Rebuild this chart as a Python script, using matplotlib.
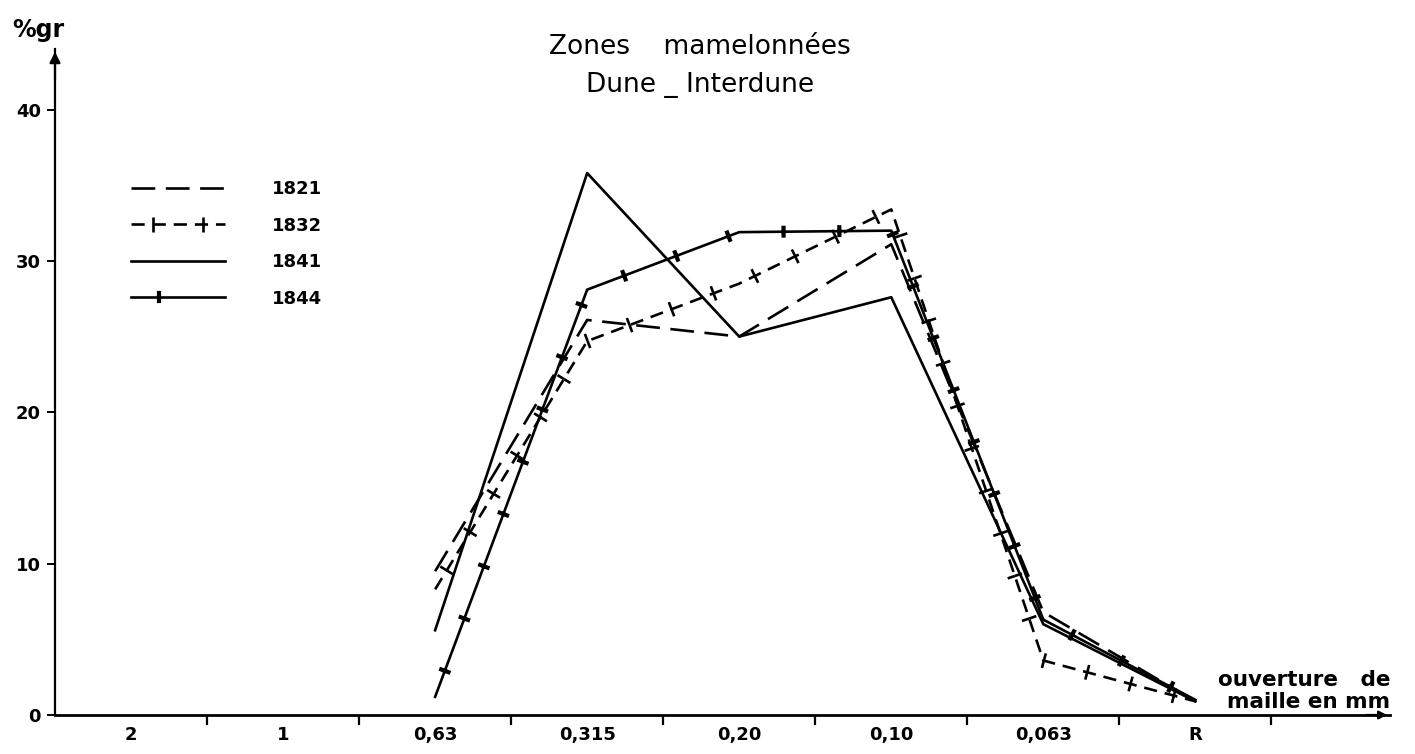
import matplotlib
matplotlib.use("Agg")
import matplotlib.pyplot as plt
from matplotlib import patheffects as pe

categories = ["2", "1", "0,63", "0,315", "0,20", "0,10", "0,063", "R"]
sample_cats = ["0,63", "0,315", "0,20", "0,10", "0,063", "R"]

s1821 = [9.5, 26.1, 25.0, 31.1, 6.8, 0.9]
s1832 = [8.3, 24.7, 28.5, 33.4, 3.6, 0.9]
s1841 = [5.6, 35.8, 25.0, 27.6, 6.0, 0.9]
s1844 = [1.2, 28.1, 31.9, 32.0, 6.3, 1.0]

yticks = [0, 10, 20, 30, 40]

plt.rcParams["font.family"] = ["DejaVu Sans"]

fig = plt.figure(figsize=(14.15, 7.54), dpi=100)
ax = fig.add_axes([55 / 1415, 39 / 754, (1390 - 55) / 1415, (716 - 50) / 754])

xpos = [categories.index(c) for c in sample_cats]
lw = 1.9

def ticks(spacing, length, width):
    nodash = dict(dash_offset=0, dash_list=None)
    return [pe.Normal(),
            pe.TickedStroke(angle=90, spacing=spacing, length=length, linewidth=width, dashes=nodash),
            pe.TickedStroke(angle=-90, spacing=spacing, length=length, linewidth=width, dashes=nodash)]

l1821, = ax.plot(xpos, s1821, color="k", lw=lw, dashes=(9, 4), label="1821")
l1832, = ax.plot(xpos, s1832, color="k", lw=lw, dashes=(5, 3), label="1832",
                 path_effects=ticks(32, 0.17, 1.9))
l1841, = ax.plot(xpos, s1841, color="k", lw=lw, label="1841")
l1844, = ax.plot(xpos, s1844, color="k", lw=lw, label="1844",
                 path_effects=ticks(40, 0.07, 3.0))

ax.set_xlim(-0.5, 8.28)
ax.set_ylim(0, 44)

for side in ["top", "right"]:
    ax.spines[side].set_visible(False)
ax.spines["left"].set_linewidth(1.6)
ax.spines["bottom"].set_linewidth(2.0)

ax.set_xticks(range(len(categories)))
ax.set_xticklabels(categories, fontsize=13, fontweight="bold")
ax.tick_params(axis="x", which="major", length=0, pad=8)
ax.set_xticks([i + 0.5 for i in range(len(categories))], minor=True)
ax.tick_params(axis="x", which="minor", length=7, width=1.6, direction="out")

ax.set_yticks(yticks)
ax.set_yticklabels([str(v) for v in yticks], fontsize=13, fontweight="bold")
ax.tick_params(axis="y", length=6, width=1.4, direction="out", pad=4)

ax.annotate("", xy=(0, 1.0), xycoords="axes fraction", xytext=(0, 0.95),
            arrowprops=dict(arrowstyle="-|>", color="k", lw=1.6, mutation_scale=16))
ax.annotate("", xy=(1.0, 0), xycoords="axes fraction", xytext=(0.98, 0),
            arrowprops=dict(arrowstyle="-|>", color="k", lw=1.6, mutation_scale=12))

fig.text(38 / 1415, 1 - 30 / 754, "%gr", fontsize=17, fontweight="bold", ha="center", va="center")

fig.text(700 / 1415, 1 - 47 / 754, "Zones    mamelonnées", fontsize=19,
         fontweight="medium", ha="center", va="center")
fig.text(700 / 1415, 1 - 85 / 754, "Dune _ Interdune", fontsize=19,
         fontweight="medium", ha="center", va="center")

ax.text(1.0, 0.053, "ouverture   de", transform=ax.transAxes, fontsize=15.5,
        fontweight="bold", ha="right", va="center")
ax.text(1.0, 0.019, "maille en mm", transform=ax.transAxes, fontsize=15.5,
        fontweight="bold", ha="right", va="center")

ax.legend(handles=[l1821, l1832, l1841, l1844], loc="upper left",
          bbox_to_anchor=(60 / 1335, (716 - 165) / 666), frameon=False,
          handlelength=5.2, handletextpad=2.6, labelspacing=1.02,
          prop=dict(size=13, weight="bold"))

fig.savefig("out.png", dpi=100, facecolor="white")
